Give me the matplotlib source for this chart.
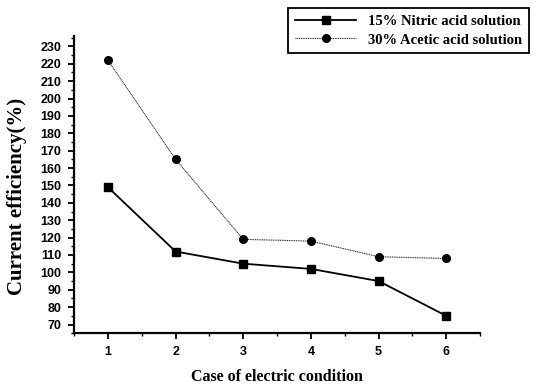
import numpy as np
import matplotlib.pyplot as plt
from matplotlib.ticker import MultipleLocator

cases = [1, 2, 3, 4, 5, 6]
nitric = [149, 112, 105, 102, 95, 75]
acetic = [222, 165, 119, 118, 109, 108]

fig = plt.figure(figsize=(5.37, 3.87), dpi=100)
ax = fig.add_axes([0.138, 0.139, 0.756, 0.768])

ax.plot(cases, nitric, color='black', lw=1.3, marker='s', ms=5.5,
        label='15% Nitric acid solution')
ax.plot(cases, acetic, color='#333333', lw=0.8, ls=(0, (1, 0.6)), marker='o', ms=5.5,
        markerfacecolor='black', markeredgecolor='black',
        label='30% Acetic acid solution')

ax.set_xlim(0.5, 6.5)
ax.set_ylim(65, 236)
ax.xaxis.set_major_locator(MultipleLocator(1))
ax.xaxis.set_minor_locator(MultipleLocator(0.5))
ax.yaxis.set_major_locator(MultipleLocator(10))
ax.yaxis.set_minor_locator(MultipleLocator(5))
ax.set_yticks(np.arange(70, 231, 10))

for s in ['top', 'right']:
    ax.spines[s].set_visible(False)
for s in ['left', 'bottom']:
    ax.spines[s].set_linewidth(1.6)

ax.tick_params(which='major', direction='out', length=4, width=1.3, pad=5)
ax.tick_params(which='minor', direction='out', length=2.5, width=1.0)
for lab in ax.get_xticklabels() + ax.get_yticklabels():
    lab.set_fontfamily('Liberation Sans')
    lab.set_fontweight('bold')
    lab.set_fontsize(9)

ax.set_xlabel('Case of electric condition', family='Liberation Serif',
              fontweight='bold', fontsize=11.5, labelpad=8)
ax.set_ylabel('Current efficiency(%)', family='Liberation Serif',
              fontweight='bold', fontsize=15)
ax.yaxis.set_label_coords(-0.115, 0.46)

leg = fig.legend(loc='upper right', bbox_to_anchor=(0.998, 0.997),
                 prop={'family': 'Liberation Serif', 'weight': 'bold', 'size': 10.5},
                 fancybox=False, edgecolor='black', framealpha=1,
                 handlelength=4.2, borderpad=0.45, labelspacing=0.35)
leg.get_frame().set_linewidth(1.3)

fig.savefig('out.png', dpi=100)
